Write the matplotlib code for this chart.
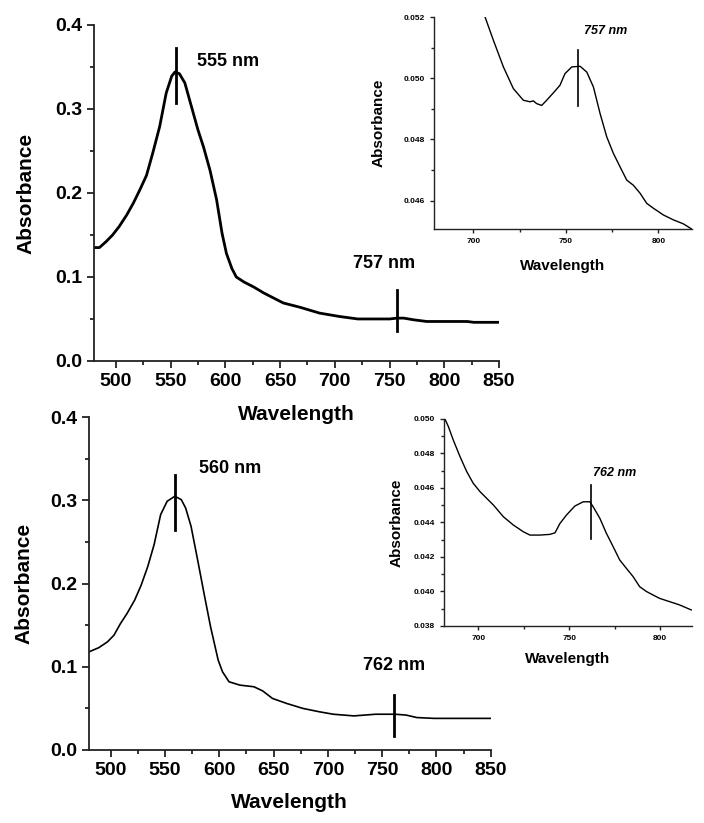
import numpy as np
import matplotlib.pyplot as plt
from matplotlib.ticker import MultipleLocator, FormatStrFormatter

plt.rcParams['font.family'] = ['Liberation Sans', 'DejaVu Sans']
plt.rcParams['font.weight'] = 'bold'

# top spectrum (peak 555 nm)
wl_top = [480, 485, 491, 497, 503, 510, 516, 522, 528, 534, 540, 546, 551, 554, 558,
          563, 569, 575, 580, 586, 592, 597, 601, 606, 610, 617, 626, 635, 644, 653,
          668, 686, 704, 721, 740, 750, 757, 763, 772, 784, 800, 821, 827, 850]
abs_top = [0.135, 0.135, 0.142, 0.150, 0.160, 0.174, 0.188, 0.204, 0.221, 0.249, 0.279, 0.319,
           0.339, 0.344, 0.342, 0.331, 0.303, 0.275, 0.255, 0.227, 0.192, 0.152, 0.128, 0.110,
           0.100, 0.094, 0.088, 0.081, 0.075, 0.069, 0.064, 0.057, 0.053, 0.050, 0.050, 0.050,
           0.051, 0.051, 0.049, 0.047, 0.047, 0.047, 0.046, 0.046]

# bottom spectrum (peak 560 nm)
wl_bot = [480, 489, 497, 503, 509, 515, 522, 528, 534, 540, 546, 552, 559, 565, 569,
          574, 580, 586, 592, 599, 603, 609, 619, 632, 640, 649, 662, 677, 692, 705,
          724, 744, 762, 772, 782, 798, 850]
abs_bot = [0.118, 0.123, 0.130, 0.138, 0.152, 0.164, 0.180, 0.198, 0.220, 0.247, 0.283, 0.299,
           0.305, 0.301, 0.291, 0.269, 0.229, 0.188, 0.148, 0.108, 0.094, 0.082, 0.078, 0.076,
           0.071, 0.062, 0.056, 0.050, 0.046, 0.043, 0.041, 0.043, 0.043, 0.042, 0.039, 0.038,
           0.038]

# top inset (zoom around 757 nm)
wl_in1 = [706.3, 710.8, 716.2, 721.6, 727.0, 730.6, 732.4, 734.2, 736.9, 739.6, 743.2, 746.8,
          749.5, 753.2, 757.7, 761.3, 764.9, 768.5, 772.1, 775.7, 779.3, 782.9, 786.5, 790.1,
          793.7, 797.3, 802.7, 808.1, 813.5, 818.0]
abs_in1 = [0.05200, 0.05124, 0.05037, 0.04966, 0.04928, 0.04923, 0.04926, 0.04917, 0.04911,
           0.04928, 0.04952, 0.04977, 0.05015, 0.05037, 0.05039, 0.05020, 0.04971, 0.04884,
           0.04808, 0.04754, 0.04710, 0.04667, 0.04650, 0.04624, 0.04591, 0.04575, 0.04553,
           0.04537, 0.04524, 0.04507]

# bottom inset (zoom around 762 nm)
wl_in2 = [681.6, 683.5, 686.2, 689.9, 693.6, 697.2, 700.9, 704.6, 708.3, 713.8, 719.3, 724.8,
          728.4, 733.9, 739.4, 742.2, 744.9, 748.5, 753.1, 757.7, 761.4, 763.2, 766.9, 770.5,
          774.2, 777.8, 781.5, 785.2, 788.8, 792.5, 796.1, 799.8, 805.3, 810.8, 817.2]
abs_in2 = [0.05000, 0.04956, 0.04878, 0.04782, 0.04695, 0.04627, 0.04579, 0.04540, 0.04501,
           0.04433, 0.04385, 0.04346, 0.04327, 0.04327, 0.04331, 0.04340, 0.04394, 0.04443,
           0.04495, 0.04520, 0.04520, 0.04491, 0.04424, 0.04337, 0.04260, 0.04183, 0.04134,
           0.04086, 0.04028, 0.04000, 0.03980, 0.03960, 0.03941, 0.03922, 0.03893]


def style_axes(ax, lw=1.3, major=5, minor=3, labelsize=14):
    ax.patch.set_visible(False)
    ax.spines['top'].set_visible(False)
    ax.spines['right'].set_visible(False)
    for s in ('left', 'bottom'):
        ax.spines[s].set_linewidth(lw)
        ax.spines[s].set_color('#222222')
    ax.tick_params(which='major', direction='out', length=major, width=lw, labelsize=labelsize,
                   color='#222222')
    ax.tick_params(which='minor', direction='out', length=minor, width=lw, color='#222222')
    for t in ax.get_xticklabels() + ax.get_yticklabels():
        t.set_fontweight('bold')


def main_panel(ax, wl, ab, lw, peak1, peak2, lab1, lab2):
    ax.plot(wl, ab, color='black', lw=lw)
    ax.set_xlim(480, 850)
    ax.set_ylim(0, 0.4)
    ax.xaxis.set_major_locator(MultipleLocator(50))
    ax.xaxis.set_minor_locator(MultipleLocator(25))
    ax.yaxis.set_major_locator(MultipleLocator(0.1))
    ax.yaxis.set_minor_locator(MultipleLocator(0.05))
    ax.yaxis.set_major_formatter(FormatStrFormatter('%.1f'))
    style_axes(ax)
    for (x, y0, y1), (tx, ty, txt, ha) in [(peak1, lab1), (peak2, lab2)]:
        ax.plot([x, x], [y0, y1], color='black', lw=2)
        ax.text(tx, ty, txt, fontsize=13, fontweight='bold', ha=ha, va='center')


def inset_panel(ax, wl, ab, xlim, ylim, yticks, peak, lab, ypad, xpad):
    ax.plot(wl, ab, color='black', lw=1)
    ax.set_xlim(*xlim)
    ax.set_ylim(*ylim)
    ax.xaxis.set_major_locator(MultipleLocator(50))
    ax.xaxis.set_minor_locator(MultipleLocator(25))
    ax.set_yticks(yticks)
    ax.yaxis.set_minor_locator(MultipleLocator(0.001))
    ax.yaxis.set_major_formatter(FormatStrFormatter('%.3f'))
    style_axes(ax, lw=1, major=3, minor=2, labelsize=6)
    x, y0, y1 = peak
    ax.plot([x, x], [y0, y1], color='black', lw=1.2)
    ax.text(lab[0], lab[1], lab[2], fontsize=9, fontweight='bold', style='italic', va='center')
    ax.set_ylabel('Absorbance', fontsize=11, fontweight='bold', labelpad=ypad)
    ax.set_xlabel('Wavelength', fontsize=11, fontweight='bold', labelpad=xpad)


fig = plt.figure(figsize=(7.04, 8.23), dpi=100)

ax1 = fig.add_axes([0.1335, 0.5614, 0.5753, 0.4083])
main_panel(ax1, wl_top, abs_top, 2.0, (554.6, 0.307, 0.373), (757.2, 0.036, 0.0845),
           (574, 0.356, '555 nm', 'left'), (745, 0.116, '757 nm', 'center'))
ax1.set_ylabel('Absorbance', fontsize=15, fontweight='bold', labelpad=14)
ax1.set_xlabel('Wavelength', fontsize=15, fontweight='bold', labelpad=11)

ax2 = fig.add_axes([0.1264, 0.0887, 0.5706, 0.4043])
main_panel(ax2, wl_bot, abs_bot, 1.2, (559.1, 0.2645, 0.3307), (761.3, 0.0172, 0.0661),
           (581, 0.339, '560 nm', 'left'), (761, 0.101, '762 nm', 'center'))
ax2.set_ylabel('Absorbance', fontsize=15, fontweight='bold', labelpad=12)
ax2.set_xlabel('Wavelength', fontsize=15, fontweight='bold', labelpad=10)

ax3 = fig.add_axes([0.6165, 0.7217, 0.366, 0.2576])
inset_panel(ax3, wl_in1, abs_in1, (678.7, 818), (0.04507, 0.052),
            [0.046, 0.048, 0.050, 0.052], (756.8, 0.04909, 0.05091), (760, 0.05153, '757 nm'),
            ypad=13, xpad=10)

ax4 = fig.add_axes([0.6307, 0.2394, 0.3517, 0.2515])
inset_panel(ax4, wl_in2, abs_in2, (681.1, 817.4), (0.038, 0.050),
            [0.038, 0.040, 0.042, 0.044, 0.046, 0.048, 0.050], (762.2, 0.04307, 0.04617),
            (763.3, 0.04689, '762 nm'), ypad=7, xpad=7)

fig.savefig('out.png', dpi=100)
